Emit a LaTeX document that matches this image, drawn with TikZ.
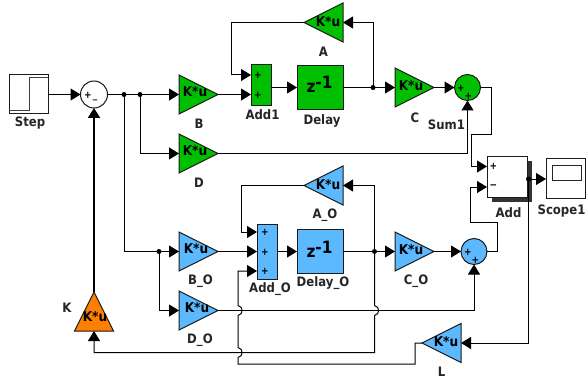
\documentclass[tikz,border=0pt]{standalone}
\usepackage{fontspec}
\setmainfont{DejaVu Sans}[FakeStretch=0.9]
\usetikzlibrary{shapes.geometric,arrows.meta,positioning,calc}
\definecolor{gr}{HTML}{00BF00}
\definecolor{bl}{HTML}{5CB8FF}
\definecolor{og}{HTML}{FF8000}
\definecolor{edge}{HTML}{1A1A1A}
\tikzset{
  every node/.append style={outer sep=0pt},
  wire/.style={draw=black,line width=1pt,-{Triangle[length=10pt,width=12pt]}},
  plainwire/.style={draw=black,line width=1pt},
  thickwire/.style={draw=black,line width=2.2pt,-{Triangle[length=10pt,width=12pt]}},
  dot/.style={circle,fill=black,inner sep=0pt,minimum size=5pt},
  gain/.style={isosceles triangle,isosceles triangle stretches,minimum width=39pt,minimum height=39pt,inner sep=0pt,draw=edge,line width=1pt},
  block/.style={draw=edge,line width=1pt,inner sep=0pt,anchor=north west},
  sumc/.style={circle,draw=edge,line width=1pt,inner sep=0pt,minimum size=26pt},
  lbl/.style={font=\bfseries\fontsize{13}{13}\selectfont,inner sep=0pt,text=black!85},
  gtxt/.style={font=\bfseries\fontsize{13.5}{13.5}\selectfont,inner sep=0pt},
  sgn/.style={font=\bfseries\fontsize{10}{10}\selectfont,inner sep=0pt},
  ztxt/.style={font=\bfseries\fontsize{17}{17}\selectfont,inner sep=0pt},
}
\begin{document}
\begin{tikzpicture}[x=1pt,y=-1pt]
\useasboundingbox (0,0) rectangle (586,385);
% green path blocks
\node[block,fill=white,minimum width=39pt,minimum height=39pt] (step) at (9,75) {};
\node[sumc,fill=white,minimum size=27pt] (sum) at (94,94.5) {};
\node[gain,fill=gr,anchor=apex] (B) at (218,94.5) {};
\node[gain,fill=gr,anchor=apex] (D) at (218,153.5) {};
\node[block,fill=gr,minimum width=20pt,minimum height=41pt] (add1) at (251,64.5) {};
\node[block,fill=gr,minimum width=46pt,minimum height=44pt] (delay) at (297,65.5) {};
\node[gain,fill=gr,anchor=apex] (C) at (434,87.5) {};
\node[gain,fill=gr,anchor=apex,shape border rotate=180] (A) at (304,22.5) {};
\node[sumc,fill=gr] (sum1) at (467.5,87.5) {};
% blue path blocks
\node[gain,fill=bl,anchor=apex] (BO) at (218,251.5) {};
\node[gain,fill=bl,anchor=apex] (DO) at (218,310.5) {};
\node[block,fill=bl,minimum width=20pt,minimum height=55pt] (addO) at (257,224.5) {};
\node[block,fill=bl,minimum width=46pt,minimum height=44pt] (delayO) at (297,229.5) {};
\node[gain,fill=bl,anchor=apex] (CO) at (434,251.5) {};
\node[gain,fill=bl,anchor=apex,shape border rotate=180] (AO) at (304,185.5) {};
\node[sumc,fill=bl] (sumO) at (474,251.5) {};
\node[gain,fill=bl,anchor=apex,shape border rotate=180] (L) at (422,343) {};
\node[gain,fill=og,anchor=apex,shape border rotate=90] (K) at (94,292) {};
% add block + scope
\node[block,draw=none,fill=black!80,minimum width=40pt,minimum height=41pt] (addshadow) at (491.5,160.5) {};
\node[block,fill=white,minimum width=40pt,minimum height=41pt] (add) at (487,156) {};
\node[block,fill=white,minimum width=39pt,minimum height=40pt] (scope) at (546,158) {};
\node[block,draw=black!85,minimum width=29pt,minimum height=15pt] (screen) at (552,165) {};
% step glyph
\coordinate (s1) at (9,111); \coordinate (s2) at (29,111); \coordinate (s3) at (29,78); \coordinate (s4) at (48,78);
\draw[line width=1pt,draw=black!75] (s1) -- (s2) -- (s3) -- (s4);
% junctions
\coordinate (j1) at (124,94.5);
\coordinate (j2) at (140,94.5);
\coordinate (j3) at (159,251.5);
\coordinate (j4) at (373,87.5);
\coordinate (j5) at (374.5,251.5);
\coordinate (j6) at (528.5,179);
% inputs
\coordinate (add1a) at (251,75); \coordinate (add1b) at (251,94.5);
\coordinate (addOa) at (257,232); \coordinate (addOb) at (257,251.5); \coordinate (addOc) at (257,271);
\coordinate (adda) at (487,166.5); \coordinate (addb) at (487,187);
% wires green
\draw[wire] (step.east |- sum.west) -- (sum.west);
\draw[plainwire] (sum.east) -- (j2);
\draw[wire] (j2) -- (B.lower side);
\draw[wire] (j2) |- (D.lower side);
\draw[wire] (B.apex) -- (add1b);
\draw[wire] (add1.east |- delay.west) -- (delay.west);
\draw[plainwire] (delay.east) -- (j4);
\draw[wire] (j4) -- (C.lower side);
\draw[wire] (C.apex) -- (sum1.west);
\draw[wire] (j4) |- (A.lower side);
\coordinate (a1) at (231.5,22.5);
\draw[wire] (A.apex) -- (a1) |- (add1a);
\draw[wire] (D.apex) -| (sum1.south);
\coordinate (s1a) at (491,87.5); \coordinate (s1b) at (491,135); \coordinate (s1c) at (471,135);
\draw[wire] (sum1.east) -- (s1a) -- (s1b) -- (s1c) |- (adda);
% wires blue
\draw[plainwire] (j1) |- (j3);
\draw[wire] (j3) -- (BO.lower side);
\draw[wire] (j3) |- (DO.lower side);
\draw[wire] (BO.apex) -- (addOb);
\draw[wire] (addO.east |- delayO.west) -- (delayO.west);
\draw[plainwire] (delayO.east) -- (j5);
\draw[wire] (j5) -- (CO.lower side);
\draw[wire] (CO.apex) -- (sumO.west);
\coordinate (a2) at (241,185.5);
\draw[wire] (j5) |- (AO.lower side);
\draw[wire] (AO.apex) -- (a2) |- (addOa);
\draw[wire] (DO.apex) -| (sumO.south);
\coordinate (o1) at (497,251.5); \coordinate (o2) at (497,222); \coordinate (o3) at (470,222);
\draw[wire] (sumO.east) -- (o1) -- (o2) -- (o3) |- (addb);
% add to scope, feedback
\draw[wire] (add.east |- j6) -- (scope.west |- j6);
\draw[wire] (j6) |- (L.lower side);
% delayO branch down to K, bump over D_O line
\coordinate (k1) at (374.5,305.5); \coordinate (k2) at (374.5,315.5); \coordinate (k3) at (374.5,352.5);
\draw[wire] (j5) -- (k1) .. controls (380,306.5) and (380,314.5) .. (k2) -- (k3) -| (K.lower side);
% L output to Add_O third input with two bumps
\coordinate (l1) at (415,343); \coordinate (l2) at (415,364); \coordinate (l3) at (238,364);
\coordinate (l4) at (238,357.5); \coordinate (l5) at (238,347.5);
\coordinate (l6) at (238,315.5); \coordinate (l7) at (238,305.5); \coordinate (l8) at (238,271);
\draw[wire] (L.apex) -- (l1) -- (l2) -- (l3) -- (l4) .. controls (243.5,356.5) and (243.5,348.5) .. (l5) -- (l6) .. controls (243.5,314.5) and (243.5,306.5) .. (l7) -- (l8) -- (addOc);
\draw[thickwire] (K.apex) -- (sum.south);
% dots
\foreach \j in {j1,j2,j3,j4,j5,j6} \node[dot] at (\j) {};
% gain text
\node[gtxt] (tB) at (195,92) {K*u};
\node[gtxt] (tD) at (195,151) {K*u};
\node[gtxt] (tC) at (411,86) {K*u};
\node[gtxt] (tA) at (328,21.5) {K*u};
\node[gtxt] (tBO) at (196,249) {K*u};
\node[gtxt] (tDO) at (197,307.5) {K*u};
\node[gtxt] (tCO) at (411,249.5) {K*u};
\node[gtxt] (tAO) at (328,184.5) {K*u};
\node[gtxt] (tL) at (446,342) {K*u};
\node[gtxt] (tK) at (95,317) {K*u};
% z
\node[ztxt] (z1) at (319.5,84) {z\raisebox{4pt}{-1}};
\node[ztxt] (z2) at (319.5,249) {z\raisebox{4pt}{-1}};
% signs
\node[sgn] (p1) at (88,95) {+}; \node[sgn] (p2) at (95,100) {\_};
\node[sgn] (p3) at (461,88) {+}; \node[sgn] (p4) at (468.5,96) {+};
\node[sgn] (p5) at (468,252) {+}; \node[sgn] (p6) at (475.5,260) {+};
\node[sgn] (p7) at (258,75) {+}; \node[sgn] (p8) at (258,95) {+};
\node[sgn] (p9) at (265,232.5) {+}; \node[sgn] (p10) at (265,252) {+}; \node[sgn] (p11) at (265,271.5) {+};
\node[sgn] (p12) at (493.5,166.5) {+}; \node[sgn] (p13) at (493.5,187) {−};
% labels
\node[lbl] (lStep) at (30,123.5) {Step};
\node[lbl] (lB) at (199,123.5) {B};
\node[lbl] (lD) at (199,182.5) {D};
\node[lbl] (lAdd1) at (262.5,114.5) {Add1};
\node[lbl] (lDelay) at (322,120.5) {Delay};
\node[lbl] (lC) at (415,117.5) {C};
\node[lbl] (lSum1) at (446.5,124.5) {Sum1};
\node[lbl] (lA) at (323.5,51.5) {A};
\node[lbl] (lAO) at (325,215.5) {A\_O};
\node[lbl] (lAdd) at (508.5,213) {Add};
\node[lbl] (lScope) at (561.5,211.5) {Scope1};
\node[lbl] (lBO) at (200.5,281.5) {B\_O};
\node[lbl] (lDO) at (200,340.5) {D\_O};
\node[lbl] (lAddO) at (270,289) {Add\_O};
\node[lbl] (lDelayO) at (323,283) {Delay\_O};
\node[lbl] (lCO) at (416,281) {C\_O};
\node[lbl] (lK) at (67,308) {K};
\node[lbl] (lL) at (441.5,372) {L};
\end{tikzpicture}
\end{document}
